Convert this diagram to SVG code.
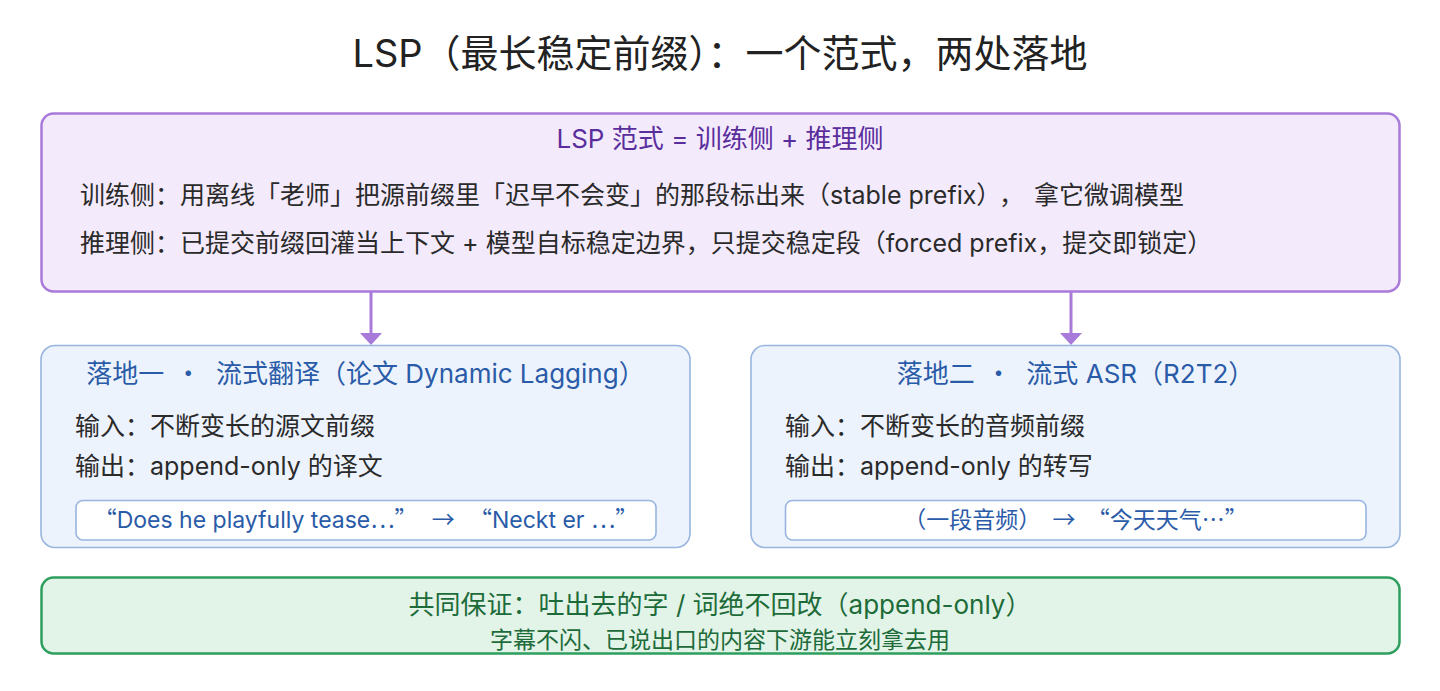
<svg xmlns="http://www.w3.org/2000/svg" width="1440" height="691" viewBox="0 0 1440 691">
<defs>
<style>
text{font-family:"Noto Sans CJK SC","Noto Sans",sans-serif;}
.l{font-family:"Inter","Noto Sans",sans-serif;}
.title{font-size:38px;fill:#222222;text-anchor:middle;}
.purple-box{fill:#f3eafb;stroke:#a87ad9;stroke-width:2.5;}
.blue-box{fill:#edf3fc;stroke:#98b5df;stroke-width:1.6;}
.inner-box{fill:#ffffff;stroke:#98b5df;stroke-width:1.6;}
.green-box{fill:#e2f4e8;stroke:#2e9e5f;stroke-width:2.5;}
.ph{font-size:26px;fill:#5a2d9c;text-anchor:middle;}
.body{font-size:25px;fill:#2a2a2a;}
.bh{font-size:26px;fill:#2a5ba8;text-anchor:middle;}
.ex{font-size:23px;fill:#2a5ba8;text-anchor:middle;}
.g1{font-size:26px;fill:#1e6b3a;text-anchor:middle;}
.g2{font-size:23px;fill:#1e6b3a;text-anchor:middle;}
.conn{stroke:#a87ad9;stroke-width:3;fill:none;}
</style>
<marker id="arrow" markerUnits="userSpaceOnUse" viewBox="0 0 12 22" markerWidth="12" markerHeight="22" refX="0" refY="11" orient="auto">
<path d="M0,0 L12,11 L0,22 Z" fill="#a87ad9"/>
</marker>
</defs>
<rect width="1440" height="691" fill="#ffffff"/>
<text id="title" class="title" x="720" y="67"><tspan class="l">LSP</tspan>（最长稳定前缀）：一个范式，两处落地</text>

<g id="connectors">
<line class="conn" x1="371" y1="292" x2="371" y2="333" marker-end="url(#arrow)"/>
<line class="conn" x1="1071" y1="292" x2="1071" y2="333" marker-end="url(#arrow)"/>
</g>

<g id="lsp-paradigm">
<rect class="purple-box" x="41.5" y="113.5" width="1358" height="178" rx="12"/>
<text class="ph" x="720" y="148"><tspan class="l">LSP </tspan>范式<tspan class="l"> = </tspan>训练侧<tspan class="l"> + </tspan>推理侧</text>
<text class="body" x="80" y="204">训练侧：用离线「老师」把源前缀里「迟早不会变」的那段标出来（<tspan class="l">stable prefix</tspan>）<tspan dx="10">，</tspan><tspan dx="10">拿它微调模型</tspan></text>
<text class="body" x="80" y="252">推理侧：已提交前缀回灌当上下文<tspan class="l"> + </tspan>模型自标稳定边界，只提交稳定段（<tspan class="l">forced prefix</tspan>，提交即锁定）</text>
</g>

<g id="landing-one">
<rect class="blue-box" x="41" y="345.5" width="649" height="202" rx="14"/>
<text class="bh" x="365.5" y="383">落地一<tspan dx="5"> · </tspan><tspan dx="9">流式翻译（论文</tspan><tspan class="l"> Dynamic Lagging</tspan>）</text>
<text class="body" x="75" y="435">输入：不断变长的源文前缀</text>
<text class="body" x="75" y="475">输出：<tspan class="l">append-only </tspan>的译文</text>
<rect class="inner-box" x="76" y="500.5" width="580" height="39.5" rx="7"/>
<text class="ex" x="366" y="528">“<tspan class="l">Does he playfully tease</tspan>…” <tspan dx="9">→</tspan> <tspan dx="9">“</tspan><tspan class="l">Neckt er </tspan>…”</text>
</g>

<g id="landing-two">
<rect class="blue-box" x="751" y="345.5" width="649" height="202" rx="14"/>
<text class="bh" x="1075.5" y="383">落地二<tspan dx="5"> · </tspan><tspan dx="9">流式</tspan><tspan class="l"> ASR</tspan>（<tspan class="l">R2T2</tspan>）</text>
<text class="body" x="785" y="435">输入：不断变长的音频前缀</text>
<text class="body" x="785" y="475">输出：<tspan class="l">append-only </tspan>的转写</text>
<rect class="inner-box" x="785.5" y="500.5" width="580.5" height="39.5" rx="7"/>
<text class="ex" x="1075.5" y="528">（一段音频） <tspan dx="6">→</tspan> <tspan dx="6">“今天天气…”</tspan></text>
</g>

<g id="shared-guarantee">
<rect class="green-box" x="41.5" y="577.5" width="1358" height="76" rx="12"/>
<text class="g1" x="720" y="614">共同保证：吐出去的字<tspan class="l"> / </tspan>词绝不回改（<tspan class="l">append-only</tspan>）</text>
<text class="g2" x="720" y="648">字幕不闪、已说出口的内容下游能立刻拿去用</text>
</g>
</svg>
